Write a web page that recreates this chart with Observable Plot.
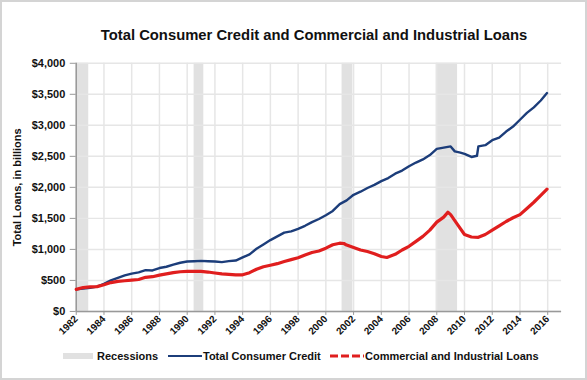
<!DOCTYPE html>
<html><head><meta charset="utf-8">
<script src="https://cdn.jsdelivr.net/npm/d3@7"></script>
<script src="https://cdn.jsdelivr.net/npm/@observablehq/plot@0.6"></script>
<style>
html,body{margin:0;padding:0;background:#fff;}
#wrap{position:relative;width:587px;height:380px;box-sizing:border-box;border:2px solid #d4d4d4;overflow:hidden;font-family:"Liberation Sans",Arial,sans-serif;}
#title{position:absolute;left:0;top:25px;width:624px;text-align:center;font-weight:bold;font-size:14.8px;color:#111;}
#chart{position:absolute;left:-2px;top:-2px;}
#legend{position:absolute;top:347px;left:0;font-weight:bold;font-size:11px;color:#111;}
.li{position:absolute;top:0;white-space:nowrap;}
</style></head>
<body><div id="wrap"><div id="chart"></div><div id="title">Total Consumer Credit and Commercial and Industrial Loans</div><div id="legend"></div></div>
<script>
// Data (billions of dollars)
const consumerYears = [1982.0,1983.0,1983.5,1984.0,1984.5,1985.0,1985.5,1986.0,1986.5,1987.0,1987.5,1988.0,1988.5,1989.0,1989.5,1990.0,1990.5,1991.0,1991.5,1992.0,1992.5,1993.0,1993.5,1994.0,1994.5,1995.0,1995.5,1996.0,1996.5,1997.0,1997.5,1998.0,1998.5,1999.0,1999.5,2000.0,2000.5,2001.0,2001.5,2002.0,2002.5,2003.0,2003.5,2004.0,2004.5,2005.0,2005.5,2006.0,2006.5,2007.0,2007.5,2008.0,2008.5,2009.0,2009.3,2009.7,2010.0,2010.5,2010.9,2011.0,2011.5,2012.0,2012.5,2013.0,2013.5,2014.0,2014.5,2015.0,2015.5,2015.95];
const consumerCredit = [355,380,400,445,500,540,580,610,630,665,660,700,720,755,785,805,810,815,810,805,795,810,820,870,920,1010,1080,1150,1210,1270,1290,1330,1380,1440,1490,1550,1620,1730,1790,1880,1930,1990,2040,2100,2150,2220,2270,2340,2400,2450,2520,2620,2640,2660,2580,2560,2540,2490,2510,2660,2680,2760,2800,2900,2980,3090,3200,3290,3400,3520];
const ciYears = [1982.0,1982.5,1983.0,1983.5,1984.0,1984.5,1985.0,1985.5,1986.0,1986.5,1987.0,1987.5,1988.0,1988.5,1989.0,1989.5,1990.0,1990.5,1991.0,1991.5,1992.0,1992.5,1993.0,1993.5,1994.0,1994.5,1995.0,1995.5,1996.0,1996.5,1997.0,1997.5,1998.0,1998.5,1999.0,1999.5,2000.0,2000.5,2001.0,2001.3,2001.5,2002.0,2002.5,2003.0,2003.5,2004.0,2004.4,2005.0,2005.5,2006.0,2006.5,2007.0,2007.5,2008.0,2008.5,2008.8,2009.0,2009.5,2010.0,2010.5,2011.0,2011.5,2012.0,2012.5,2013.0,2013.5,2014.0,2014.5,2015.0,2015.5,2015.95];
const ciLoans = [355,385,395,400,430,465,485,495,505,515,550,560,585,605,625,640,645,645,645,635,620,605,598,590,590,625,680,720,745,770,805,835,865,910,950,975,1020,1075,1100,1095,1070,1030,990,965,930,885,870,920,990,1050,1130,1210,1310,1440,1520,1600,1560,1400,1240,1200,1195,1240,1310,1380,1450,1510,1560,1660,1760,1870,1970];
const recessionStart = [1982.0, 1990.5, 2001.17, 2007.95];
const recessionEnd   = [1982.9, 1991.2, 2001.95, 2009.5];
const xTicks = d3.range(1982, 2017, 2);
const yTicks = [0,500,1000,1500,2000,2500,3000,3500,4000];
const seriesNames = ["Recessions","Total Consumer Credit","Commercial and Industrial Loans"];

const blue = "#1c3d7a", red = "#e01e1e", recGray = "#e1e1e1";
const consumer = consumerYears.map((x,i)=>({x, y: consumerCredit[i]}));
const ci = ciYears.map((x,i)=>({x, y: ciLoans[i]}));
const recessions = recessionStart.map((s,i)=>({x1:s, x2:recessionEnd[i]}));

const chart = Plot.plot({
  width: 587, height: 347,
  marginLeft: 76, marginRight: 24, marginTop: 63, marginBottom: 35,
  style: {fontFamily: "'Liberation Sans', Arial, sans-serif", fontWeight: "bold", fontSize: "11px", color: "#111", background: "transparent"},
  x: {domain: [1982, 2017]},
  y: {domain: [0, 4000]},
  marks: [
    Plot.rectX(recessions, {x1: "x1", x2: "x2", y1: 0, y2: 4000, fill: recGray}),
    Plot.gridY(yTicks, {stroke: "#e6e6e6", strokeOpacity: 1, strokeWidth: 1.5}),
    Plot.gridX(xTicks, {stroke: "#e6e6e6", strokeOpacity: 1, strokeWidth: 1.5}),
    Plot.axisY(yTicks, {tickFormat: d => "$" + d3.format(",")(d), tickSize: 6, tickPadding: 5, stroke: "#999", fontSize: 11, label: "Total Loans, in billions", labelAnchor: "center", labelArrow: "none", labelOffset: 63}),
    Plot.axisX(xTicks, {tickFormat: d => String(d), tickRotate: -45, tickSize: 4, tickPadding: 2, stroke: "#999", fontSize: 10, label: null}),
    Plot.ruleY([0], {stroke: "#999", strokeWidth: 1.5}),
    Plot.ruleX([1982], {stroke: "#999", strokeWidth: 1.5}),
    Plot.lineY(consumer, {x: "x", y: "y", stroke: blue, strokeWidth: 2.4}),
    Plot.lineY(ci, {x: "x", y: "y", stroke: red, strokeWidth: 3.2})
  ]
});
document.getElementById("chart").appendChild(chart);

// Legend
const lg = document.getElementById("legend");
const items = [
  {sw: `<svg width="30" height="8" style="vertical-align:middle"><rect x="0" y="1" width="30" height="6" fill="${recGray}"/></svg>`, left: 61},
  {sw: `<svg width="34" height="8" style="vertical-align:middle"><line x1="0" y1="4" x2="34" y2="4" stroke="${blue}" stroke-width="2.2"/></svg>`, left: 166},
  {sw: `<svg width="34" height="8" style="vertical-align:middle"><line x1="0" y1="4" x2="34" y2="4" stroke="${red}" stroke-width="3.2" stroke-dasharray="8,3"/></svg>`, left: 328}
];
items.forEach((it,i)=>{
  const d = document.createElement("div");
  d.className = "li"; d.style.left = it.left + "px";
  d.innerHTML = it.sw + `<span style="vertical-align:middle;margin-left:${i===0?4:1}px">${seriesNames[i]}</span>`;
  lg.appendChild(d);
});
</script></body></html>
